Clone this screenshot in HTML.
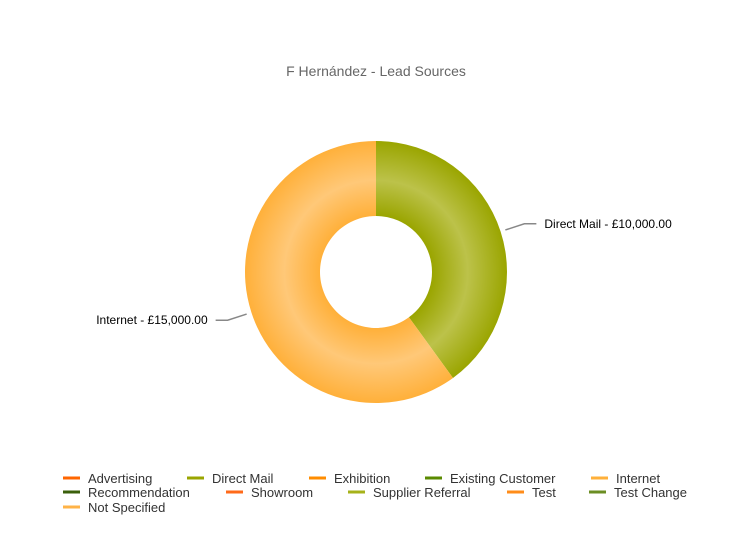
<!DOCTYPE html>
<html><head><meta charset="utf-8"><style>
body{margin:0;background:#fff;font-family:"Liberation Sans",Arial,sans-serif}
svg text{font-family:"Liberation Sans",Arial,sans-serif}
</style></head><body>
<svg id="chart" width="751" height="534" xmlns="http://www.w3.org/2000/svg">
<defs>
<radialGradient id="gDM" gradientUnits="userSpaceOnUse" cx="376" cy="272" r="131">
<stop offset="0.43" stop-color="#9aa500"/><stop offset="0.7" stop-color="#bcc24a"/><stop offset="1" stop-color="#9aa500"/></radialGradient>
<radialGradient id="gIN" gradientUnits="userSpaceOnUse" cx="376" cy="272" r="131">
<stop offset="0.43" stop-color="#ffb03a"/><stop offset="0.7" stop-color="#ffc878"/><stop offset="1" stop-color="#ffb03a"/></radialGradient>
</defs>
<text x="376" y="76" text-anchor="middle" font-size="14" fill="#666">F Hernández - Lead Sources</text>
<g id="slices"></g>
<g id="legend"></g>
</svg>
<script>
const categories=["Direct Mail","Internet"];
const values=[10000,15000];
const fills=["url(#gDM)","url(#gIN)"];
const legendNames=["Advertising","Direct Mail","Exhibition","Existing Customer","Internet","Recommendation","Showroom","Supplier Referral","Test","Test Change","Not Specified"];
const legendColors=["#ff6600","#9aa500","#ff8c00","#5a8a00","#ffb03a","#3a5f0b","#ff6a1a","#a6b21a","#ff8c1a","#6b8e23","#ffb347"];
const NS="http://www.w3.org/2000/svg";
const cx=376,cy=272,R=131,r=56;
const total=values.reduce((a,b)=>a+b,0);
const g=document.getElementById('slices');
function pt(a,rad){return [cx+rad*Math.sin(a),cy-rad*Math.cos(a)];}
let start=0;
values.forEach((v,i)=>{
 const end=start+v/total*2*Math.PI;
 const large=(end-start)>Math.PI?1:0;
 const [x1,y1]=pt(start,R),[x2,y2]=pt(end,R),[x3,y3]=pt(end,r),[x4,y4]=pt(start,r);
 const p=document.createElementNS(NS,'path');
 p.setAttribute('d',`M${x1},${y1}A${R},${R} 0 ${large} 1 ${x2},${y2}L${x3},${y3}A${r},${r} 0 ${large} 0 ${x4},${y4}Z`);
 p.setAttribute('fill',fills[i]);
 
 
 g.appendChild(p);
 const mid=(start+end)/2;
 const [a1,b1]=pt(mid,R+5),[a2,b2]=pt(mid,R+25);
 const right=Math.sin(mid)>=0;
 const a3=a2+(right?12:-12);
 const l=document.createElementNS(NS,'polyline');
 l.setAttribute('points',`${a1},${b1} ${a2},${b2} ${a3},${b2}`);
 l.setAttribute('fill','none');l.setAttribute('stroke','#888');l.setAttribute('stroke-width','1.5');
 
 
 g.appendChild(l);
 const t=document.createElementNS(NS,'text');
 t.setAttribute('x',a3+(right?8:-8));t.setAttribute('y',b2+4);
 t.setAttribute('text-anchor',right?'start':'end');
 t.setAttribute('font-size','12');t.setAttribute('fill','#000');
 t.textContent=categories[i]+' - £'+v.toLocaleString('en-GB',{minimumFractionDigits:2});
 
 
 g.appendChild(t);
 start=end;
});
const lg=document.getElementById('legend');
const colX=[[63,187,309,425,591],[63,226,348,507,589],[63]];
const rowY=[478,492,507];
let k=0;
colX.forEach((row,ri)=>row.forEach(x=>{
 if(k>=legendNames.length)return;
 const e=document.createElementNS(NS,'g');
 
 
 const m=document.createElementNS(NS,'rect');
 m.setAttribute('x',x);m.setAttribute('y',rowY[ri]-1.5);m.setAttribute('width',17);m.setAttribute('height',3);
 m.setAttribute('fill',legendColors[k]);
 
 
 e.appendChild(m);
 const t=document.createElementNS(NS,'text');
 t.setAttribute('x',x+25);t.setAttribute('y',rowY[ri]+5);t.setAttribute('font-size','13');t.setAttribute('fill','#333');
 t.textContent=legendNames[k];
 
 
 e.appendChild(t);
 lg.appendChild(e);k++;
}));
</script>
</body></html>
